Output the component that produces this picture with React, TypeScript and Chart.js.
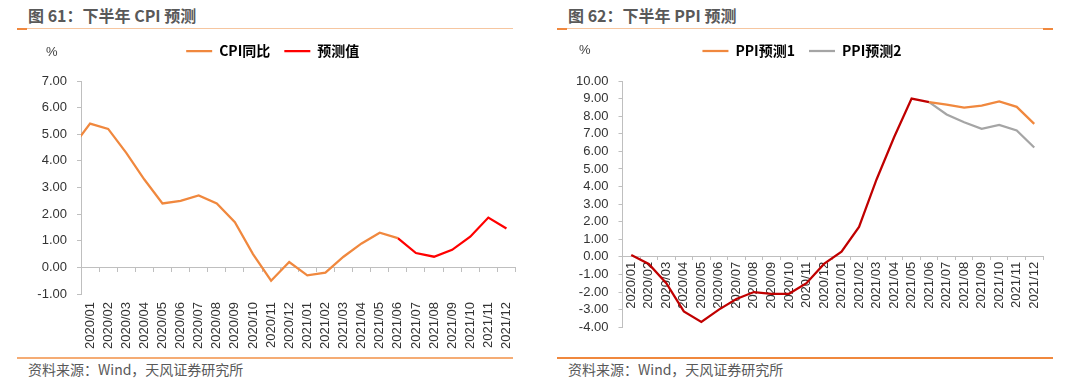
import React, { useEffect, useRef } from 'react';
import { Chart, registerables } from 'chart.js';

Chart.register(...registerables);

// ---------- data ----------
const cpiLabels = [
  '2019/12',
  '2020/01', '2020/02', '2020/03', '2020/04', '2020/05', '2020/06',
  '2020/07', '2020/08', '2020/09', '2020/10', '2020/11', '2020/12',
  '2021/01', '2021/02', '2021/03', '2021/04', '2021/05', '2021/06',
  '2021/07', '2021/08', '2021/09', '2021/10', '2021/11', '2021/12',
];
const cpiActual = [
  4.5,
  5.4, 5.2, 4.3, 3.3, 2.4, 2.5, 2.7, 2.4, 1.7, 0.5, -0.5, 0.2,
  -0.3, -0.2, 0.4, 0.9, 1.3, 1.1, null, null, null, null, null, null,
];
const cpiForecast = [
  null,
  null, null, null, null, null, null, null, null, null, null, null, null,
  null, null, null, null, null, 1.1, 0.54, 0.4, 0.66, 1.15, 1.87, 1.46,
];
const cpiYMin = -1;
const cpiYMax = 7;

const ppiLabels = [
  '2020/01', '2020/02', '2020/03', '2020/04', '2020/05', '2020/06',
  '2020/07', '2020/08', '2020/09', '2020/10', '2020/11', '2020/12',
  '2021/01', '2021/02', '2021/03', '2021/04', '2021/05', '2021/06',
  '2021/07', '2021/08', '2021/09', '2021/10', '2021/11', '2021/12',
];
const ppiHistory = [
  0.1, -0.4, -1.5, -3.1, -3.7, -3.0, -2.4, -2.0, -2.1, -2.1, -1.5, -0.4,
  0.3, 1.7, 4.4, 6.8, 9.0, 8.8, null, null, null, null, null, null,
];
const ppiForecast1 = [
  null, null, null, null, null, null, null, null, null, null, null, null,
  null, null, null, null, null, 8.8, 8.66, 8.48, 8.6, 8.84, 8.53, 7.56,
];
const ppiForecast2 = [
  null, null, null, null, null, null, null, null, null, null, null, null,
  null, null, null, null, null, 8.8, 8.1, 7.65, 7.28, 7.5, 7.19, 6.22,
];
const ppiYMin = -4;
const ppiYMax = 10;

// ---------- styles ----------
const ORANGE = '#F0883E';
const RED = '#FF0000';
const DARK_RED = '#C00000';
const GRAY = '#A5A5A5';
const AXIS = '#BFBFBF';
const TICK_COLOR = '#333333';
const TICK_FONT = { family: "'Liberation Sans', Arial, sans-serif", size: 13 };
const LEGEND_FONT = { family: "'Noto Sans CJK SC', sans-serif", size: 14, weight: 'bold' as const };

function legendHeightPlugin(h: number) {
  return {
    id: 'legendHeight',
    beforeLayout(chart: any) {
      const lg = chart.legend;
      if (lg && !lg.__patched) {
        const orig = lg.fit;
        lg.fit = function () {
          orig.call(this);
          this.height = h;
        };
        lg.__patched = true;
      }
    },
  };
}

function legendOptions(filter?: (item: any) => boolean) {
  return {
    display: true,
    position: 'top' as const,
    labels: {
      usePointStyle: true,
      pointStyle: 'line',
      pointStyleWidth: 26,
      padding: 14,
      color: '#000000',
      font: LEGEND_FONT,
      filter,
    },
  };
}

function CpiChart() {
  const ref = useRef<HTMLCanvasElement>(null);
  useEffect(() => {
    if (!ref.current) return;
    const chart = new Chart(ref.current, {
      type: 'line',
      data: {
        labels: cpiLabels,
        datasets: [
          {
            label: 'CPI同比',
            data: cpiActual,
            borderColor: ORANGE,
            backgroundColor: ORANGE,
            borderWidth: 2.25,
            pointRadius: 0,
            tension: 0,
            xAxisID: 'x',
            yAxisID: 'y',
          },
          {
            label: '预测值',
            data: cpiForecast,
            borderColor: RED,
            backgroundColor: RED,
            borderWidth: 2.25,
            pointRadius: 0,
            tension: 0,
            xAxisID: 'x',
            yAxisID: 'y',
          },
        ],
      },
      options: {
        responsive: false,
        animation: false,
        devicePixelRatio: 1,
        layout: { padding: { left: 30, right: 24.5, top: 0, bottom: 0 } },
        plugins: {
          legend: legendOptions(),
          tooltip: { enabled: false },
        },
        scales: {
          x: {
            type: 'category',
            min: '2020/01',
            max: '2021/12',
            offset: true,
            grid: { display: false, drawTicks: false },
            border: { display: false },
            ticks: {
              autoSkip: false,
              minRotation: 90,
              maxRotation: 90,
              padding: 8,
              color: TICK_COLOR,
              font: TICK_FONT,
            },
            afterFit: (s: any) => {
              s.height = 60;
            },
          },
          x2: {
            type: 'category',
            labels: cpiLabels,
            min: '2020/01',
            max: '2021/12',
            position: { y: 0 },
            offset: true,
            grid: {
              display: true,
              drawOnChartArea: false,
              drawTicks: true,
              tickLength: 4,
              color: AXIS,
              offset: true,
            },
            border: { display: true, color: AXIS, width: 1 },
            ticks: { display: false },
          },
          y: {
            type: 'linear',
            min: cpiYMin,
            max: cpiYMax,
            ticks: {
              stepSize: 1,
              autoSkip: false,
              padding: 10,
              color: TICK_COLOR,
              font: TICK_FONT,
              callback: (v: any) => Number(v).toFixed(2),
            },
            grid: { display: true, drawOnChartArea: false, tickLength: 4, color: AXIS },
            border: { display: true, color: AXIS },
            afterFit: (s: any) => {
              s.width = 51;
            },
          },
        } as any,
      },
      plugins: [legendHeightPlugin(51)],
    } as any);
    return () => chart.destroy();
  }, []);
  return <canvas ref={ref} width={540} height={324} style={{ width: 540, height: 324, display: 'block' }} />;
}

function PpiChart() {
  const ref = useRef<HTMLCanvasElement>(null);
  useEffect(() => {
    if (!ref.current) return;
    const chart = new Chart(ref.current, {
      type: 'line',
      data: {
        labels: ppiLabels,
        datasets: [
          {
            label: 'PPI预测1',
            data: ppiForecast1,
            borderColor: ORANGE,
            backgroundColor: ORANGE,
            borderWidth: 2.25,
            pointRadius: 0,
            tension: 0,
          },
          {
            label: 'PPI预测2',
            data: ppiForecast2,
            borderColor: GRAY,
            backgroundColor: GRAY,
            borderWidth: 2.25,
            pointRadius: 0,
            tension: 0,
          },
          {
            label: 'PPI',
            data: ppiHistory,
            borderColor: DARK_RED,
            backgroundColor: DARK_RED,
            borderWidth: 2.25,
            pointRadius: 0,
            tension: 0,
          },
        ],
      },
      options: {
        responsive: false,
        animation: false,
        devicePixelRatio: 1,
        layout: { padding: { left: 21, right: 37, top: 0, bottom: 10 } },
        plugins: {
          legend: legendOptions((item: any) => item.datasetIndex !== 2),
          tooltip: { enabled: false },
        },
        scales: {
          x: {
            type: 'category',
            position: { y: 0 },
            offset: true,
            grid: {
              display: true,
              drawOnChartArea: false,
              drawTicks: true,
              tickLength: 3,
              color: AXIS,
              offset: true,
            },
            border: { display: true, color: AXIS },
            ticks: {
              autoSkip: false,
              minRotation: 90,
              maxRotation: 90,
              padding: 2,
              color: TICK_COLOR,
              font: TICK_FONT,
            },
          },
          y: {
            type: 'linear',
            min: ppiYMin,
            max: ppiYMax,
            ticks: {
              stepSize: 1,
              autoSkip: false,
              padding: 10,
              color: TICK_COLOR,
              font: TICK_FONT,
              callback: (v: any) => Number(v).toFixed(2),
            },
            grid: { display: true, drawOnChartArea: false, tickLength: 4, color: AXIS },
            border: { display: true, color: AXIS },
            afterFit: (s: any) => {
              s.width = 61.5;
            },
          },
        } as any,
      },
      plugins: [legendHeightPlugin(51)],
    } as any);
    return () => chart.destroy();
  }, []);
  return <canvas ref={ref} width={540} height={315} style={{ width: 540, height: 315, display: 'block' }} />;
}

const CJK = "'Noto Sans CJK SC', 'Liberation Sans', sans-serif";

function Panel(props: {
  x: number;
  title: string;
  lineEndAccent: boolean;
  bottomColor: string;
}) {
  const { x, title, lineEndAccent, bottomColor } = props;
  return (
    <>
      <div
        style={{
          position: 'absolute',
          left: x + 28,
          top: 5,
          height: 20,
          lineHeight: '20px',
          fontFamily: CJK,
          fontWeight: 'bold',
          fontSize: 16,
          color: '#595959',
          whiteSpace: 'nowrap',
        }}
      >
        {title}
      </div>
      <div style={{ position: 'absolute', left: x + 17, top: 28, width: 496, height: 1, background: '#F6C6A0' }} />
      <div style={{ position: 'absolute', left: x + 17, top: 28, width: 10, height: 2, background: ORANGE }} />
      {lineEndAccent && (
        <div style={{ position: 'absolute', left: x + 503, top: 28, width: 10, height: 2, background: ORANGE }} />
      )}
      <div style={{ position: 'absolute', left: x + 17, top: 357, width: 496, height: 1.5, background: bottomColor }} />
      <div
        style={{
          position: 'absolute',
          left: x + 28,
          top: 360,
          height: 18,
          lineHeight: '18px',
          fontFamily: CJK,
          fontSize: 14,
          color: '#595959',
          whiteSpace: 'nowrap',
        }}
      >
        资料来源：Wind，天风证券研究所
      </div>
    </>
  );
}

export default function App() {
  return (
    <div
      style={{
        position: 'fixed',
        left: 0,
        top: 0,
        width: 1080,
        height: 383,
        background: '#ffffff',
        overflow: 'hidden',
      }}
    >
      <Panel x={0} title="图 61：下半年 CPI 预测" lineEndAccent={false} bottomColor="#F5AC74" />
      <Panel x={540} title="图 62：下半年 PPI 预测" lineEndAccent={true} bottomColor={ORANGE} />
      <div style={{ position: 'absolute', left: 0, top: 30 }}>
        <CpiChart />
      </div>
      <div style={{ position: 'absolute', left: 540, top: 30 }}>
        <PpiChart />
      </div>
      <div
        style={{
          position: 'absolute',
          left: 46,
          top: 44,
          lineHeight: '16px',
          fontFamily: "'Liberation Sans', Arial, sans-serif",
          fontSize: 13,
          color: '#404040',
        }}
      >
        %
      </div>
      <div
        style={{
          position: 'absolute',
          left: 579,
          top: 42,
          lineHeight: '16px',
          fontFamily: "'Liberation Sans', Arial, sans-serif",
          fontSize: 13,
          color: '#404040',
        }}
      >
        %
      </div>
    </div>
  );
}
